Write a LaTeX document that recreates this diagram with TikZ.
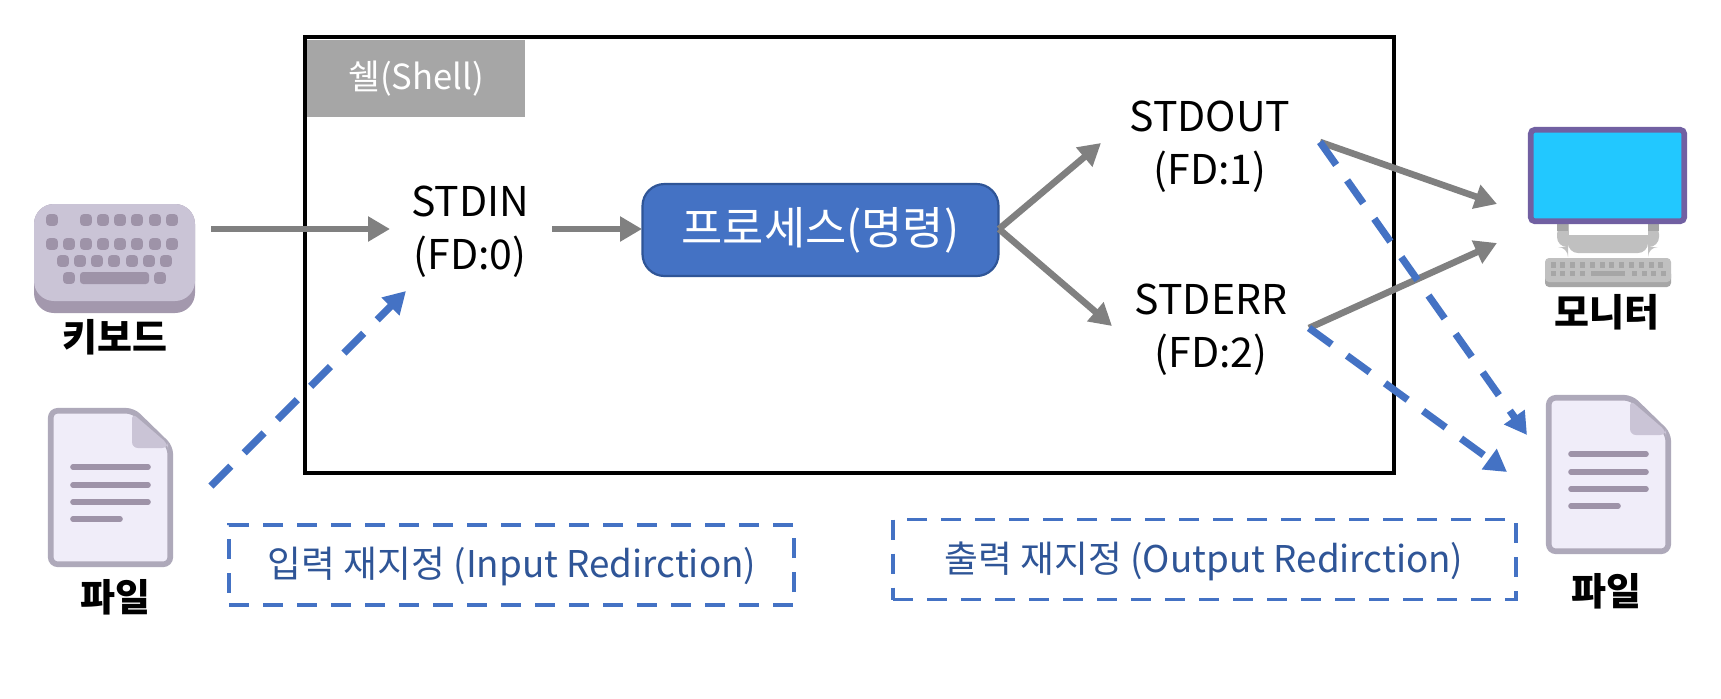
\documentclass[tikz,border=0pt]{standalone}
\usepackage{fontspec}
\setmainfont{Noto Sans CJK KR}
\usetikzlibrary{arrows.meta}
\definecolor{blueline}{HTML}{4472C4}
\definecolor{bluedark}{HTML}{2F5597}
\definecolor{grayline}{HTML}{808080}
\definecolor{kbtop}{HTML}{CAC4D6}
\definecolor{kbbase}{HTML}{A398AD}
\definecolor{kbkey}{HTML}{9E93A8}
\definecolor{filefill}{HTML}{F0EDF9}
\definecolor{fileedge}{HTML}{AEA9BA}
\definecolor{monframe}{HTML}{7160A2}
\definecolor{monscreen}{HTML}{22C8FF}
\definecolor{standgray}{HTML}{C0C0C0}
\definecolor{standdark}{HTML}{A6A6A6}
\tikzset{
  x=.5pt,y=-.5pt,
  labeltext/.style={align=center,font=\fontsize{20.5}{26.5}\selectfont,text=black,inner sep=0pt},
  iconlabel/.style={font=\fontsize{19}{22}\selectfont\bfseries,text=black,inner sep=0pt},
  dashtext/.style={font=\fontsize{18.4}{22}\selectfont,text=bluedark,inner sep=0pt},
  grayarrow/.style={draw=grayline,line width=3.3pt,-{Triangle[length=11pt,width=12pt]}},
  bluearrow/.style={draw=blueline,line width=3.6pt,dash pattern=on 14pt off 9.5pt,-{Triangle[length=11pt,width=12pt]}},
  dashbox/.style={draw=blueline,line width=1.7pt,dash pattern=on 10pt off 7pt},
  pics/fileicon/.style={code={
    \path[fill=filefill,draw=fileedge,line width=2.8pt,line join=round,rounded corners=3.5pt]
      (2.75,2.75) -- (85,2.75) -- (122.25,39) -- (122.25,156.25) -- (2.75,156.25) -- cycle;
    \path[fill=kbtop,rounded corners=3pt] (84,5) -- (84,40) -- (120,40) -- (120,36) -- cycle;
    \foreach \ly/\lx in {59/102,77/102,94/102,111/74}
      \draw[kbkey,line width=2.8pt,line cap=round] (25,\ly) -- (\lx-2,\ly);
  }},
}
\newcommand{\kbkeyat}[2]{\fill[kbkey,rounded corners=1.6pt] (#1-5.8,#2-5.8) rectangle (#1+5.8,#2+5.8);}
\begin{document}
\begin{tikzpicture}
\useasboundingbox (0,0) rectangle (1721,698);
\fill[white] (0,0) rectangle (1721,698);
% shell box
\draw[black,line width=2pt] (305,37) rectangle (1394,473);
\node[fill=standdark,minimum width=109pt,minimum height=38.5pt,inner sep=0pt,text=white,font=\fontsize{17.3}{20}\selectfont] (shell) at (416,78.5) {쉘(Shell)};
% text nodes
\node[labeltext] (stdin) at (470,232) {STDIN\\(FD:0)};
\node[labeltext] (stdout) at (1210,147) {STDOUT\\(FD:1)};
\node[labeltext] (stderr) at (1211,330) {STDERR\\(FD:2)};
\node[draw=bluedark,line width=1.1pt,fill=blueline,rounded corners=11pt,minimum width=178pt,minimum height=46pt,inner sep=0pt,text=white,font=\fontsize{22.4}{26}\selectfont] (proc) at (820.5,230) {프로세스(명령)};
% keyboard icon
\fill[kbbase,rounded corners=10pt] (34,204) rectangle (195,313);
\fill[kbtop,rounded corners=10pt] (34,204) rectangle (195,301);
\foreach \kx in {52,86,103,120,137,155,172} {\kbkeyat{\kx}{220}}
\foreach \kx in {52,69,86,103,120,137,155,172} {\kbkeyat{\kx}{244}}
\foreach \kx in {63,80,97,114,132,149,166} {\kbkeyat{\kx}{261}}
\foreach \kx in {69,160} {\kbkeyat{\kx}{278}}
\fill[kbkey,rounded corners=1.6pt] (80,272) rectangle (149,284);
\node[iconlabel] (kblabel) at (115,337) {키보드};
% file icons
\pic (fileleft) at (48,408) {fileicon};
\node[iconlabel] (filelabelL) at (115,597) {파일};
\pic (fileright) at (1546,395) {fileicon};
\node[iconlabel] (filelabelR) at (1606,591) {파일};
% monitor icon
\fill[standgray,rounded corners=5pt] (1557,224) -- (1659,224) -- (1659,247) -- (1648,247) -- (1648,253) -- (1568,253) -- (1568,247) -- (1557,247) -- cycle;
\fill[white] (1569,224) rectangle (1648,235);
\fill[standdark] (1557,224) rectangle (1568,231);
\fill[standdark] (1648,224) rectangle (1659,231);
\draw[monframe,fill=monscreen,line width=2.8pt,rounded corners=2pt] (1530.75,129.75) rectangle (1684.25,221.25);
\fill[standdark,rounded corners=2pt] (1545,270) rectangle (1671,287);
\fill[standgray,rounded corners=2pt] (1545,258) rectangle (1671,282);
\foreach \kx in {0,...,11} {\fill[standdark] (1553+\kx*9.8-2.5,262) rectangle (1553+\kx*9.8+2.5,268);}
\foreach \kx in {0,1,2,3,8.3,9.3,10.3,11.3} {\fill[standdark] (1553+\kx*9.8-2.5,270.5) rectangle (1553+\kx*9.8+2.5,276);}
\fill[standdark] (1591,270.5) rectangle (1625,276);
\node[iconlabel] (monlabel) at (1607,312) {모니터};
% dashed text boxes
\node[dashbox,minimum width=282.5pt,minimum height=40pt,inner sep=0pt] (inbox) at (511.5,565) {};
\node[dashtext] (intext) at (512,566) {입력 재지정 (Input Redirction)};
\node[dashbox,minimum width=311.5pt,minimum height=40pt,inner sep=0pt] (outbox) at (1204.5,559.5) {};
\node[dashtext] (outtext) at (1204,561) {출력 재지정 (Output Redirction)};
% connector anchors
\coordinate (kbout) at (211,229);
\coordinate (stdinL) at (390,229);
\coordinate (stdinR) at (552,229);
\coordinate (procL) at (642,229);
\coordinate (procR) at (999,229);
\coordinate (stdoutL) at (1101,143);
\coordinate (stderrL) at (1112,326);
\coordinate (stdoutR) at (1320,142);
\coordinate (stderrR) at (1309,328);
\coordinate (monA) at (1497,204);
\coordinate (monB) at (1497,243);
\coordinate (fileA) at (1527,435);
\coordinate (fileB) at (1507,472);
\coordinate (fileLout) at (211,486);
\coordinate (stdinB) at (406,291);
% gray connectors
\draw[grayarrow] (kbout) -- (stdinL);
\draw[grayarrow] (stdinR) -- (procL);
\draw[grayarrow] (procR) -- (stdoutL);
\draw[grayarrow] (procR) -- (stderrL);
\draw[grayarrow] (stdoutR) -- (monA);
\draw[grayarrow] (stderrR) -- (monB);
% blue dashed connectors
\draw[bluearrow] (fileLout) -- (stdinB);
\draw[bluearrow] (stdoutR) -- (fileA);
\draw[bluearrow] (stderrR) -- (fileB);
\end{tikzpicture}
\end{document}
